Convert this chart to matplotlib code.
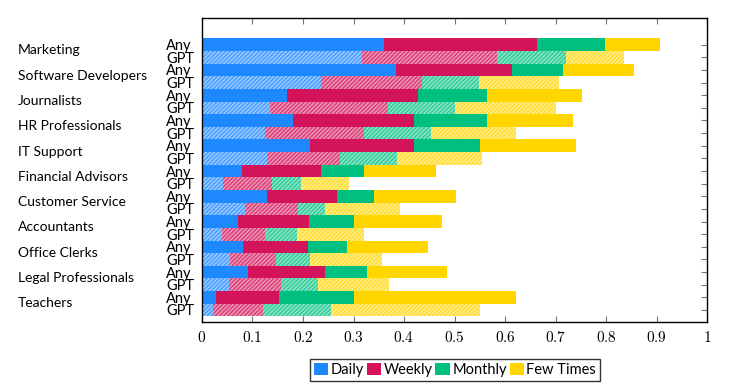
import matplotlib
matplotlib.use("Agg")
import matplotlib.pyplot as plt
import numpy as np
from matplotlib.patches import Patch
from matplotlib.colors import to_rgb

categories = ["Marketing", "Software Developers", "Journalists", "HR Professionals",
              "IT Support", "Financial Advisors", "Customer Service", "Accountants",
              "Office Clerks", "Legal Professionals", "Teachers"]
series = ["Daily", "Weekly", "Monthly", "Few Times"]

any_daily   = [0.360, 0.385, 0.168, 0.181, 0.214, 0.080, 0.128, 0.071, 0.082, 0.092, 0.028]
any_weekly  = [0.304, 0.228, 0.260, 0.239, 0.206, 0.156, 0.139, 0.140, 0.127, 0.152, 0.124]
any_monthly = [0.135, 0.101, 0.137, 0.145, 0.130, 0.085, 0.074, 0.090, 0.079, 0.083, 0.149]
any_few     = [0.108, 0.142, 0.187, 0.169, 0.191, 0.142, 0.161, 0.174, 0.160, 0.158, 0.321]

gpt_daily   = [0.316, 0.235, 0.135, 0.125, 0.129, 0.042, 0.085, 0.039, 0.055, 0.054, 0.021]
gpt_weekly  = [0.269, 0.200, 0.234, 0.195, 0.144, 0.096, 0.106, 0.085, 0.091, 0.102, 0.100]
gpt_monthly = [0.135, 0.114, 0.132, 0.133, 0.114, 0.058, 0.052, 0.065, 0.067, 0.074, 0.134]
gpt_few     = [0.116, 0.157, 0.200, 0.169, 0.167, 0.096, 0.149, 0.132, 0.143, 0.141, 0.296]

xticks = [0, 0.1, 0.2, 0.3, 0.4, 0.5, 0.6, 0.7, 0.8, 0.9, 1]
xtick_labels = ["0", "0.1", "0.2", "0.3", "0.4", "0.5", "0.6", "0.7", "0.8", "0.9", "1"]

colors = ["#1E88FF", "#D4145A", "#00C07F", "#FFD600"]

def mix(c, t):
    r = np.array(to_rgb(c))
    return tuple(r + (1 - r) * t)

plt.rcParams['mathtext.fontset'] = 'cm'
plt.rcParams['hatch.linewidth'] = 0.9
plt.rcParams['font.family'] = ['Lato', 'DejaVu Sans']

fig = plt.figure(figsize=(7.5, 3.92), dpi=100)
ax = fig.add_axes([202/750, 1 - 322/392, 505/750, (322-18)/392])

n = len(categories)
pos_any = np.arange(n) * 2
pos_gpt = pos_any + 1
h = 1.0

any_data = [any_daily, any_weekly, any_monthly, any_few]
gpt_data = [gpt_daily, gpt_weekly, gpt_monthly, gpt_few]

left = np.zeros(n)
for vals, c in zip(any_data, colors):
    ax.barh(pos_any, vals, left=left, height=h, color=c, linewidth=0)
    left += np.array(vals)

left = np.zeros(n)
for vals, c in zip(gpt_data, colors):
    ax.barh(pos_gpt, vals, left=left, height=h, facecolor=mix(c, 0.2),
            edgecolor=mix(c, 0.6), hatch='////////', linewidth=0)
    left += np.array(vals)

ax.set_xlim(0, 1)
ax.set_ylim(21.95, -2.11)
ax.set_xticks(xticks)
ax.set_xticklabels(["$" + t + "$" for t in xtick_labels], fontsize=11)
ax.tick_params(axis='x', direction='in', top=True, length=4, color='#777777', pad=6)

yt = np.sort(np.concatenate([pos_any, pos_gpt]))
ax.set_yticks(yt)
ax.set_yticklabels(["Any" if i % 2 == 0 else "GPT" for i in range(len(yt))], fontsize=10.5)
ax.tick_params(axis='y', direction='in', right=True, left=False, length=4, color='#777777', pad=0)
for lab in ax.get_yticklabels():
    lab.set_horizontalalignment('left')
    lab.set_x(-36/505)
for s in ax.spines.values():
    s.set_color('black')
    s.set_linewidth(1.0)

for i, cat in enumerate(categories):
    fig.text(18/750, 1 - (50.5 + i*25.26)/392, cat, fontsize=10, ha='left', va='center')

handles = [Patch(facecolor=c, edgecolor='none') for c in colors]
fig.legend(handles, series, loc='center', bbox_to_anchor=(455/750, 1 - 370/392), ncol=4,
           frameon=True, fancybox=False, edgecolor='black', fontsize=10.5,
           handlelength=1.0, handleheight=0.8, handletextpad=0.15, columnspacing=0.2,
           borderpad=0.25, borderaxespad=0)

fig.savefig("out.png", dpi=100)
